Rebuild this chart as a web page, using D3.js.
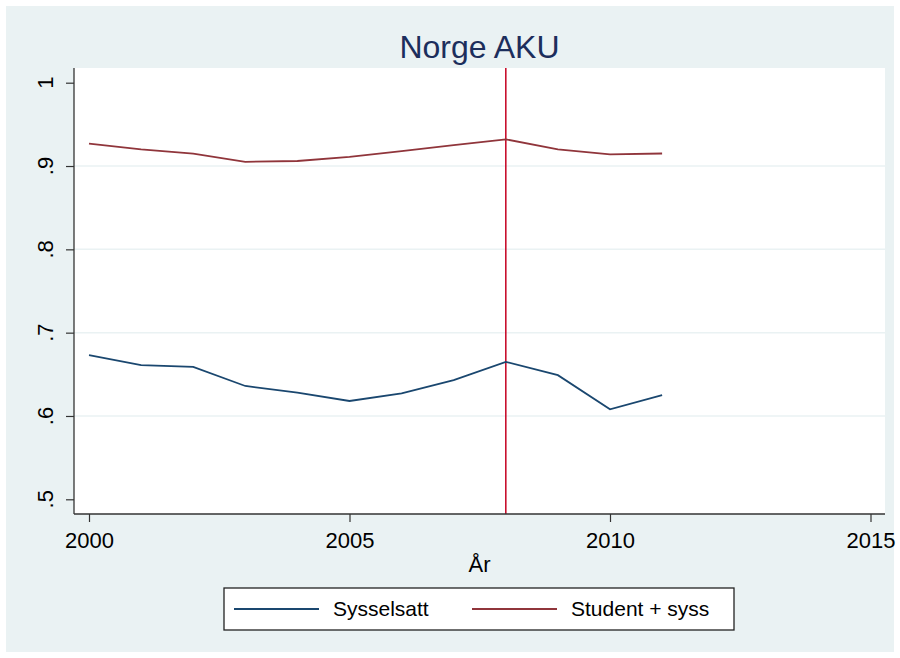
<!DOCTYPE html>
<meta charset="UTF-8">
<script src="https://cdn.jsdelivr.net/npm/d3@7"></script>
<style>
 body { margin:0; background:#fff; }
 svg text { font-family:"Liberation Sans", Arial, sans-serif; fill:#000; }
</style>
<svg id="chart" width="900" height="658"></svg>
<script>
 // data
 var years = [2000,2001,2002,2003,2004,2005,2006,2007,2008,2009,2010,2011];
 var sysselsatt = [0.673,0.661,0.659,0.636,0.628,0.618,0.627,0.643,0.665,0.649,0.608,0.625];
 var studentSyss = [0.927,0.920,0.915,0.905,0.906,0.911,0.918,0.925,0.932,0.920,0.914,0.915];
 var xTicks = [2000,2005,2010,2015];
 var yTicks = [0.5,0.6,0.7,0.8,0.9,1];
 var yTickLabels = [".5",".6",".7",".8",".9","1"];
 var markYear = 2008;
 var seriesNames = ["Sysselsatt","Student + syss"];
 var seriesColors = ["#1a476f","#90353b"];

 var svg = d3.select("#chart");

 // stata-like background
 svg.append("rect").attr("x",6).attr("y",6).attr("width",888).attr("height",646).attr("fill","#eaf2f3");

 var plot = {left:74, right:885, top:68, bottom:514};
 svg.append("rect").attr("x",plot.left).attr("y",plot.top)
    .attr("width",plot.right-plot.left).attr("height",plot.bottom-plot.top).attr("fill","#fff");

 var x = d3.scaleLinear().domain([2000,2015]).range([89,870.5]);
 var y = d3.scaleLinear().domain([0.5,1]).range([499.3,82.7]);

 // gridlines
 svg.append("g").selectAll("line").data(yTicks.filter(function(d){return d>0.5 && d<1;})).enter()
    .append("line")
    .attr("x1",plot.left).attr("x2",plot.right)
    .attr("y1",function(d){return y(d);}).attr("y2",function(d){return y(d);})
    .attr("stroke","#eaf2f3").attr("stroke-width",1.5);

 // vertical line
 svg.append("line")
    .attr("x1",x(markYear)).attr("x2",x(markYear))
    .attr("y1",plot.top).attr("y2",plot.bottom)
    .attr("stroke","#c8102e").attr("stroke-width",1.6);

 // series
 var line = d3.line().x(function(d,i){return x(years[i]);}).y(function(d){return y(d);});
 [sysselsatt,studentSyss].forEach(function(s,i){
     svg.append("path").attr("d",line(s))
	.attr("fill","none").attr("stroke",seriesColors[i]).attr("stroke-width",1.8);
 });

 // y axis
 var yAxis = svg.append("g").attr("transform","translate("+plot.left+",0)")
		.call(d3.axisLeft(y).tickValues(yTicks).tickSize(8).tickFormat(function(d,i){return "";}));
 yAxis.select(".domain").attr("d","M0,"+plot.top+"V"+plot.bottom).attr("stroke","#333").attr("stroke-width",1.3);
 yAxis.selectAll(".tick line").attr("stroke","#333").attr("stroke-width",1.2);
 svg.append("g").selectAll("text").data(yTicks).enter().append("text")
    .attr("transform",function(d){return "translate(53,"+y(d)+") rotate(-90)";})
    .attr("text-anchor","middle").attr("font-size",22)
    .text(function(d,i){return yTickLabels[i];});

 // x axis
 var xAxis = svg.append("g").attr("transform","translate(0,"+plot.bottom+")")
		.call(d3.axisBottom(x).tickValues(xTicks).tickSize(8).tickFormat(d3.format("d")));
 xAxis.select(".domain").attr("d","M"+plot.left+",0H"+plot.right).attr("stroke","#333").attr("stroke-width",1.3);
 xAxis.selectAll(".tick line").attr("stroke","#333").attr("stroke-width",1.2);
 xAxis.selectAll(".tick text").attr("font-size",22).attr("fill","#000")
      .attr("font-family","Liberation Sans, Arial, sans-serif").attr("y",18);

 svg.append("text").attr("x",(plot.left+plot.right)/2).attr("y",572)
    .attr("text-anchor","middle").attr("font-size",22).text("År");

 // title
 svg.append("text").attr("x",(plot.left+plot.right)/2).attr("y",58)
    .attr("text-anchor","middle").attr("font-size",32).style("fill","#1c2e5c").text("Norge AKU");

 // legend
 svg.append("rect").attr("x",224).attr("y",588).attr("width",510).attr("height",42)
    .attr("fill","#fff").attr("stroke","#222").attr("stroke-width",1.3);
 var legX = [234,472];
 seriesNames.forEach(function(n,i){
     svg.append("line").attr("x1",legX[i]).attr("x2",legX[i]+85).attr("y1",609).attr("y2",609)
	.attr("stroke",seriesColors[i]).attr("stroke-width",1.8);
     svg.append("text").attr("x",legX[i]+99).attr("y",616).attr("font-size",21).text(n);
 });
</script>
